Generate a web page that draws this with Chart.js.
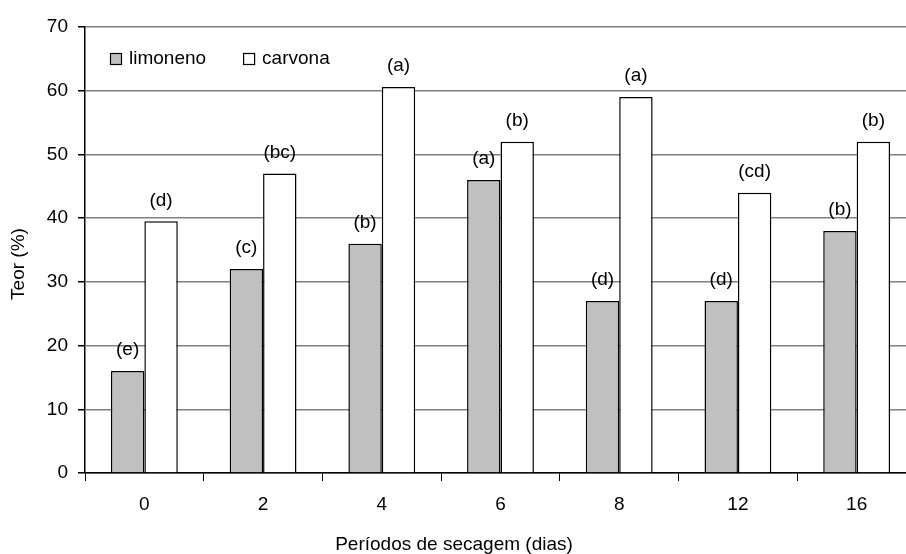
<!DOCTYPE html>
<html>
<head>
<meta charset="utf-8">
<script src="https://cdn.jsdelivr.net/npm/chart.js@4"></script>
<style>
  html, body { margin: 0; padding: 0; background: #fff; overflow: hidden; width: 906px; height: 554px; }
  #wrap { position: absolute; left: 0; top: 0; width: 920px; height: 554px; }
</style>
</head>
<body>
<div id="wrap"><canvas id="c" width="920" height="554"></canvas></div>
<script>
const categories = ['0', '2', '4', '6', '8', '12', '16'];
const limoneno = [16, 32, 36, 46, 27, 27, 38];
const carvona = [39.5, 47, 60.6, 52, 59, 44, 52];
const limonenoLetters = ['(e)', '(c)', '(b)', '(a)', '(d)', '(d)', '(b)'];
const carvonaLetters = ['(d)', '(bc)', '(a)', '(b)', '(a)', '(cd)', '(b)'];
const yTicks = [0, 10, 20, 30, 40, 50, 60, 70];
const xTitle = 'Períodos de secagem (dias)';
const yTitle = 'Teor (%)';

const FONT = "'Liberation Sans', Arial, sans-serif";

const letterPlugin = {
  id: 'letters',
  afterDatasetsDraw(chart) {
    const ctx = chart.ctx;
    ctx.save();
    ctx.font = '19px ' + FONT;
    ctx.fillStyle = '#000';
    ctx.textAlign = 'center';
    ctx.textBaseline = 'middle';
    const sets = [limonenoLetters, carvonaLetters];
    chart.data.datasets.forEach((ds, di) => {
      const meta = chart.getDatasetMeta(di);
      meta.data.forEach((bar, i) => {
        ctx.fillText(sets[di][i], bar.x, bar.y - 21);
      });
    });
    ctx.restore();
  }
};

const legendPlugin = {
  id: 'insideLegend',
  afterDraw(chart) {
    const ctx = chart.ctx;
    const a = chart.chartArea;
    ctx.save();
    ctx.font = '19px ' + FONT;
    ctx.textAlign = 'left';
    ctx.textBaseline = 'middle';
    let x = a.left + 25;
    const cy = a.top + 32;
    chart.data.datasets.forEach(ds => {
      ctx.fillStyle = ds.backgroundColor;
      ctx.fillRect(x, cy - 6, 12, 12);
      ctx.strokeStyle = '#000';
      ctx.lineWidth = 1.2;
      ctx.strokeRect(x + 0.5, cy - 5.5, 11, 11);
      ctx.fillStyle = '#000';
      ctx.fillText(ds.label, x + 19, cy);
      x += 19 + ctx.measureText(ds.label).width + 37;
    });
    ctx.restore();
  }
};

const titlePlugin = {
  id: 'axisTitles',
  afterDraw(chart) {
    const ctx = chart.ctx;
    ctx.save();
    ctx.font = '19px ' + FONT;
    ctx.fillStyle = '#000';
    ctx.textAlign = 'center';
    ctx.textBaseline = 'middle';
    ctx.fillText(xTitle, 454, 545);
    ctx.translate(19, 264);
    ctx.rotate(-Math.PI / 2);
    ctx.fillText(yTitle, 0, 0);
    ctx.restore();
  }
};

new Chart(document.getElementById('c'), {
  type: 'bar',
  data: {
    labels: categories,
    datasets: [
      { label: 'limoneno', data: limoneno, backgroundColor: '#C0C0C0', borderColor: '#000', borderWidth: 1.5 },
      { label: 'carvona', data: carvona, backgroundColor: '#FFFFFF', borderColor: '#000', borderWidth: 1.5 }
    ]
  },
  options: {
    responsive: false,
    animation: false,
    devicePixelRatio: 1,
    layout: { padding: { top: 27, right: 4, left: 0, bottom: 0 } },
    datasets: { bar: { categoryPercentage: 0.563, barPercentage: 1 } },
    plugins: {
      legend: { display: false },
      tooltip: { enabled: false }
    },
    scales: {
      x: {
        grid: { offset: true, drawOnChartArea: false, drawTicks: true, tickLength: 8, color: '#000', lineWidth: 1 },
        border: { color: '#000', width: 1.5 },
        ticks: { color: '#000', font: { family: FONT, size: 19 }, padding: 12 },
        afterFit(s) { s.height = 81; }
      },
      y: {
        min: 0, max: 70,
        afterBuildTicks(s) { s.ticks = yTicks.map(v => ({ value: v })); },
        grid: { color: '#808080', lineWidth: 1.5, tickLength: 7, tickColor: '#000' },
        border: { color: '#000', width: 1.5 },
        ticks: { color: '#000', font: { family: FONT, size: 19 }, padding: 10 },
        afterFit(s) { s.width = 85; }
      }
    }
  },
  plugins: [letterPlugin, legendPlugin, titlePlugin]
});
</script>
</body>
</html>
